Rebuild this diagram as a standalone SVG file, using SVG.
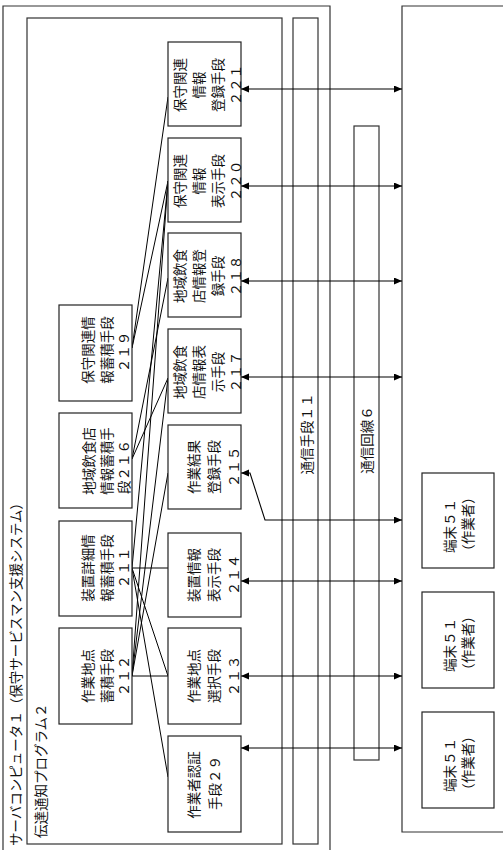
<svg xmlns="http://www.w3.org/2000/svg" width="503" height="850" viewBox="0 0 503 850">
<defs>
<marker id="ah" markerUnits="userSpaceOnUse" markerWidth="9" markerHeight="8" refX="8" refY="3.5" orient="auto-start-reverse">
<path d="M0,0 L8,3.5 L0,7 z" fill="#000"/>
</marker>
<style>
.b{fill:#fff;stroke:#222;stroke-width:1.2}
.o{fill:none;stroke:#333;stroke-width:1.2}
.c{fill:none;stroke:#000;stroke-width:1}
.a{fill:none;stroke:#000;stroke-width:1.1;marker-start:url(#ah);marker-end:url(#ah)}
text{font-family:"Noto Sans CJK JP","Noto Sans",sans-serif;font-size:13.5px;fill:#111;dominant-baseline:central;text-anchor:middle}
.s{text-anchor:start}
</style>
</defs>
<rect width="503" height="850" fill="#fff"/>
<g id="server">
<path class="o" d="M3,851 V6 H330 V851"/>
<text class="s" transform="translate(15,846) rotate(-90)">サーバコンピュータ１（保守サービスマン支援システム）</text>
</g>
<g id="program">
<rect class="o" x="27" y="18" width="255" height="826"/>
<text class="s" transform="translate(40,838) rotate(-90)">伝達通知プログラム２</text>
</g>
<g id="comm11">
<rect class="o" x="293" y="18" width="25" height="826"/>
<text transform="translate(305.5,434) rotate(-90)">通信手段１１</text>
</g>
<g id="terminals">
<path class="o" d="M504,6 H402 V832 H504"/>
</g>
<g id="line6">
<rect class="o" x="354" y="126" width="25" height="634"/>
<text transform="translate(366,440) rotate(-90)">通信回線６</text>
</g>
<g id="connectors">
<path class="c" d="M132,348 L168,97 M132,348 L168,181 M132,568 L168,181 M132,676 L168,181 M132,459 L168,278 M132,459 L168,378 M132,676 L168,378 M132,676 L168,473 M132,568 L168,568 M132,568 L168,676 M132,676 L168,676 M132,568 L168,777"/>
<path class="a" d="M241,89 H402"/>
<path class="a" d="M241,186 H402"/>
<path class="a" d="M241,281 H402"/>
<path class="a" d="M241,377 H402"/>
<path class="a" d="M241,473 L250,473 L265,520 H402"/>
<path class="a" d="M241,581 H402"/>
<path class="a" d="M241,676 H402"/>
<path class="a" d="M241,748 H402"/>
</g>
<g id="n219">
<rect class="b" x="59" y="305" width="73" height="96"/>
<text transform="translate(87,350) rotate(-90)">保守関連情</text>
<text transform="translate(106,350) rotate(-90)">報蓄積手段</text>
<text transform="translate(123,352) rotate(-90)">２１９</text>
</g>
<g id="n216">
<rect class="b" x="59" y="413" width="73" height="95"/>
<text transform="translate(88,461) rotate(-90)">地域飲食店</text>
<text transform="translate(106,461) rotate(-90)">情報蓄積手</text>
<text class="s" transform="translate(123,494) rotate(-90)">段２１６</text>
</g>
<g id="n211">
<rect class="b" x="59" y="521" width="73" height="95"/>
<text transform="translate(87,568) rotate(-90)">装置詳細情</text>
<text transform="translate(106,568) rotate(-90)">報蓄積手段</text>
<text transform="translate(123,568) rotate(-90)">２１１</text>
</g>
<g id="n212">
<rect class="b" x="59" y="628" width="73" height="96"/>
<text transform="translate(87,676) rotate(-90)">作業地点</text>
<text transform="translate(106,676) rotate(-90)">蓄積手段</text>
<text transform="translate(123,676) rotate(-90)">２１２</text>
</g>
<g id="n221">
<rect class="b" x="168" y="42" width="73" height="84"/>
<text transform="translate(179,85) rotate(-90)">保守関連</text>
<text transform="translate(198,85) rotate(-90)">情報</text>
<text transform="translate(217,85) rotate(-90)">登録手段</text>
<text transform="translate(235,85) rotate(-90)">２２１</text>
</g>
<g id="n220">
<rect class="b" x="168" y="138" width="73" height="84"/>
<text transform="translate(179,181) rotate(-90)">保守関連</text>
<text transform="translate(198,181) rotate(-90)">情報</text>
<text transform="translate(217,181) rotate(-90)">表示手段</text>
<text transform="translate(235,181) rotate(-90)">２２０</text>
</g>
<g id="n218">
<rect class="b" x="168" y="233" width="73" height="84"/>
<text transform="translate(179,276) rotate(-90)">地域飲食</text>
<text transform="translate(198,276) rotate(-90)">店情報登</text>
<text transform="translate(217,276) rotate(-90)">録手段</text>
<text transform="translate(235,276) rotate(-90)">２１８</text>
</g>
<g id="n217">
<rect class="b" x="168" y="329" width="73" height="84"/>
<text transform="translate(179,372) rotate(-90)">地域飲食</text>
<text transform="translate(198,372) rotate(-90)">店情報表</text>
<text transform="translate(217,372) rotate(-90)">示手段</text>
<text transform="translate(235,372) rotate(-90)">２１７</text>
</g>
<g id="n215">
<rect class="b" x="168" y="425" width="73" height="84"/>
<text transform="translate(193,467) rotate(-90)">作業結果</text>
<text transform="translate(213,467) rotate(-90)">登録手段</text>
<text transform="translate(233,467) rotate(-90)">２１５</text>
</g>
<g id="n214">
<rect class="b" x="168" y="533" width="73" height="84"/>
<text transform="translate(193,575) rotate(-90)">装置情報</text>
<text transform="translate(213,575) rotate(-90)">表示手段</text>
<text transform="translate(233,575) rotate(-90)">２１４</text>
</g>
<g id="n213">
<rect class="b" x="168" y="628" width="73" height="96"/>
<text transform="translate(193,676) rotate(-90)">作業地点</text>
<text transform="translate(213,676) rotate(-90)">選択手段</text>
<text transform="translate(233,676) rotate(-90)">２１３</text>
</g>
<g id="n29">
<rect class="b" x="168" y="736" width="73" height="96"/>
<text transform="translate(193,785) rotate(-90)">作業者認証</text>
<text transform="translate(214,783) rotate(-90)">手段２９</text>
</g>
<g id="t51a">
<rect class="b" x="422" y="473" width="72" height="95"/>
<text transform="translate(449,526) rotate(-90)">端末５１</text>
<text transform="translate(467,524) rotate(-90)">（作業者）</text>
</g>
<g id="t51b">
<rect class="b" x="422" y="592" width="72" height="96"/>
<text transform="translate(449,645) rotate(-90)">端末５１</text>
<text transform="translate(467,643) rotate(-90)">（作業者）</text>
</g>
<g id="t51c">
<rect class="b" x="422" y="712" width="72" height="96"/>
<text transform="translate(449,765) rotate(-90)">端末５１</text>
<text transform="translate(467,763) rotate(-90)">（作業者）</text>
</g>
</svg>
